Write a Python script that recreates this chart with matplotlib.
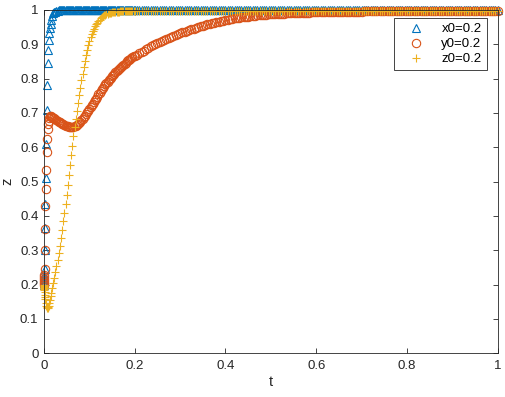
import matplotlib
matplotlib.use("Agg")
import matplotlib.pyplot as plt

# time points (the solver steps are very dense near t = 0)
t = [0, 0.0002, 0.0004, 0.0006, 0.0008, 0.001, 0.0015, 0.002, 0.0025, 0.003,
     0.004, 0.005, 0.006, 0.0075, 0.0085, 0.0095, 0.0105, 0.012, 0.0135, 0.015,
     0.0165, 0.018,
     0.02, 0.0225, 0.025, 0.0275, 0.03, 0.0325, 0.035, 0.0375, 0.04, 0.0425,
     0.045, 0.0475, 0.05, 0.0525, 0.055, 0.0575, 0.06, 0.0625, 0.065, 0.0675,
     0.07, 0.0725, 0.075, 0.0775, 0.08, 0.0825, 0.085, 0.0875, 0.09, 0.0925,
     0.095, 0.0975, 0.1, 0.1025, 0.105, 0.1075, 0.11, 0.1125, 0.115, 0.1175,
     0.12, 0.1225, 0.125, 0.1275, 0.13, 0.1325, 0.135, 0.1375, 0.14, 0.1425,
     0.145, 0.1475, 0.15, 0.1525, 0.155, 0.1575, 0.16, 0.1625, 0.165, 0.1675,
     0.17, 0.1725, 0.175, 0.1775, 0.18, 0.1825, 0.185, 0.1875, 0.19, 0.1925,
     0.195, 0.1975, 0.2,
     0.205, 0.21, 0.215, 0.22, 0.225, 0.23, 0.235, 0.24, 0.245, 0.25,
     0.255, 0.26, 0.265, 0.27, 0.275, 0.28, 0.285, 0.29, 0.295, 0.30,
     0.305, 0.31, 0.315, 0.32, 0.325, 0.33, 0.335, 0.34, 0.345, 0.35,
     0.355, 0.36, 0.365, 0.37, 0.375, 0.38, 0.385, 0.39, 0.395, 0.40,
     0.405, 0.41, 0.415, 0.42, 0.425, 0.43, 0.435, 0.44, 0.445, 0.45,
     0.455, 0.46, 0.465, 0.47, 0.475, 0.48, 0.485, 0.49, 0.495, 0.50,
     0.505, 0.51, 0.515, 0.52, 0.525, 0.53, 0.535, 0.54, 0.545, 0.55,
     0.555, 0.56, 0.565, 0.57, 0.575, 0.58, 0.585, 0.59, 0.595, 0.60,
     0.605, 0.61, 0.615, 0.62, 0.625, 0.63, 0.635, 0.64, 0.645, 0.65,
     0.655, 0.66, 0.665, 0.67, 0.675, 0.68, 0.685, 0.69, 0.695, 0.70,
     0.705, 0.71, 0.715, 0.72, 0.725, 0.73, 0.735, 0.74, 0.745, 0.75,
     0.755, 0.76, 0.765, 0.77, 0.775, 0.78, 0.785, 0.79, 0.795, 0.80,
     0.805, 0.81, 0.815, 0.82, 0.825, 0.83, 0.835, 0.84, 0.845, 0.85,
     0.855, 0.86, 0.865, 0.87, 0.875, 0.88, 0.885, 0.89, 0.895, 0.90,
     0.905, 0.91, 0.915, 0.92, 0.925, 0.93, 0.935, 0.94, 0.945, 0.95,
     0.955, 0.96, 0.965, 0.97, 0.975, 0.98, 0.985, 0.99, 0.995, 1.00]

# x0 = 0.2 (triangles)
x_vals = [0.2, 0.205, 0.21, 0.216, 0.222, 0.228, 0.246, 0.30, 0.364, 0.436,
          0.511, 0.611, 0.708, 0.781, 0.846, 0.883, 0.912, 0.932, 0.947, 0.960,
          0.972, 0.982,
          0.990, 0.993, 0.995, 0.997, 0.998, 0.999, 1.0, 1.0, 1.0, 1.0,
          1.0, 1.0, 1.0, 1.0, 1.0, 1.0, 1.0, 1.0, 1.0, 1.0,
          1.0, 1.0, 1.0, 1.0, 1.0, 1.0, 1.0, 1.0, 1.0, 1.0,
          1.0, 1.0, 1.0, 1.0, 1.0, 1.0, 1.0, 1.0, 1.0, 1.0,
          1.0, 1.0, 1.0, 1.0, 1.0, 1.0, 1.0, 1.0, 1.0, 1.0,
          1.0, 1.0, 1.0, 1.0, 1.0, 1.0, 1.0, 1.0, 1.0, 1.0,
          1.0, 1.0, 1.0, 1.0, 1.0, 1.0, 1.0, 1.0, 1.0, 1.0,
          1.0, 1.0, 1.0,
          1.0, 1.0, 1.0, 1.0, 1.0, 1.0, 1.0, 1.0, 1.0, 1.0,
          1.0, 1.0, 1.0, 1.0, 1.0, 1.0, 1.0, 1.0, 1.0, 1.0,
          1.0, 1.0, 1.0, 1.0, 1.0, 1.0, 1.0, 1.0, 1.0, 1.0,
          1.0, 1.0, 1.0, 1.0, 1.0, 1.0, 1.0, 1.0, 1.0, 1.0,
          1.0, 1.0, 1.0, 1.0, 1.0, 1.0, 1.0, 1.0, 1.0, 1.0,
          1.0, 1.0, 1.0, 1.0, 1.0, 1.0, 1.0, 1.0, 1.0, 1.0,
          1.0, 1.0, 1.0, 1.0, 1.0, 1.0, 1.0, 1.0, 1.0, 1.0,
          1.0, 1.0, 1.0, 1.0, 1.0, 1.0, 1.0, 1.0, 1.0, 1.0,
          1.0, 1.0, 1.0, 1.0, 1.0, 1.0, 1.0, 1.0, 1.0, 1.0,
          1.0, 1.0, 1.0, 1.0, 1.0, 1.0, 1.0, 1.0, 1.0, 1.0,
          1.0, 1.0, 1.0, 1.0, 1.0, 1.0, 1.0, 1.0, 1.0, 1.0,
          1.0, 1.0, 1.0, 1.0, 1.0, 1.0, 1.0, 1.0, 1.0, 1.0,
          1.0, 1.0, 1.0, 1.0, 1.0, 1.0, 1.0, 1.0, 1.0, 1.0,
          1.0, 1.0, 1.0, 1.0, 1.0, 1.0, 1.0, 1.0, 1.0, 1.0,
          1.0, 1.0, 1.0, 1.0, 1.0, 1.0, 1.0, 1.0, 1.0, 1.0,
          1.0, 1.0, 1.0, 1.0, 1.0, 1.0, 1.0, 1.0, 1.0, 1.0]

# y0 = 0.2 (circles)
y_vals = [0.2, 0.205, 0.21, 0.216, 0.222, 0.228, 0.245, 0.30, 0.362, 0.43,
          0.48, 0.535, 0.585, 0.625, 0.652, 0.668, 0.678, 0.686, 0.69, 0.69,
          0.689, 0.688,
          0.686, 0.684, 0.682, 0.680, 0.678, 0.675, 0.673, 0.671, 0.669, 0.667,
          0.665, 0.663, 0.662, 0.661, 0.660, 0.659, 0.659, 0.659, 0.660, 0.661,
          0.663, 0.665, 0.668, 0.671, 0.675, 0.679, 0.683, 0.687, 0.692, 0.697,
          0.702, 0.707, 0.712, 0.717, 0.722, 0.727, 0.732, 0.737, 0.742, 0.748,
          0.754, 0.759, 0.764, 0.769, 0.774, 0.778, 0.783, 0.787, 0.791, 0.795,
          0.799, 0.803, 0.807, 0.811, 0.815, 0.818, 0.822, 0.825, 0.829, 0.832,
          0.835, 0.838, 0.841, 0.844, 0.847, 0.850, 0.853, 0.855, 0.858, 0.860,
          0.863, 0.865, 0.867,
          0.870, 0.874, 0.878, 0.882, 0.886, 0.890, 0.894, 0.897, 0.901, 0.904,
          0.907, 0.910, 0.913, 0.916, 0.919, 0.922, 0.925, 0.927, 0.930, 0.932,
          0.935, 0.937, 0.940, 0.942, 0.944, 0.946, 0.948, 0.950, 0.952, 0.954,
          0.956, 0.958, 0.960, 0.961, 0.963, 0.965, 0.966, 0.968, 0.969, 0.971,
          0.972, 0.973, 0.974, 0.976, 0.977, 0.978, 0.979, 0.980, 0.980, 0.981,
          0.982, 0.983, 0.983, 0.984, 0.985, 0.985, 0.986, 0.986, 0.987, 0.987,
          0.988, 0.988, 0.988, 0.989, 0.989, 0.989, 0.990, 0.990, 0.990, 0.991,
          0.991, 0.991, 0.991, 0.992, 0.992, 0.992, 0.992, 0.993, 0.993, 0.993,
          0.993, 0.993, 0.994, 0.994, 0.994, 0.994, 0.994, 0.994, 0.995, 0.995,
          0.995, 0.995, 0.995, 0.995, 0.995, 0.995, 0.995, 0.995, 0.995, 0.995,
          0.996, 0.996, 0.996, 0.996, 0.996, 0.996, 0.996, 0.996, 0.996, 0.996,
          0.996, 0.996, 0.996, 0.996, 0.996, 0.996, 0.996, 0.996, 0.996, 0.996,
          0.997, 0.997, 0.997, 0.997, 0.997, 0.997, 0.997, 0.997, 0.997, 0.997,
          0.997, 0.997, 0.997, 0.997, 0.997, 0.997, 0.997, 0.997, 0.997, 0.997,
          0.997, 0.997, 0.997, 0.997, 0.997, 0.998, 0.998, 0.998, 0.998, 0.998,
          0.998, 0.998, 0.998, 0.998, 0.998, 0.998, 0.998, 0.998, 0.998, 0.998]

# z0 = 0.2 (plus signs)
z_vals = [0.2, 0.197, 0.194, 0.191, 0.188, 0.185, 0.178, 0.170, 0.163, 0.157,
          0.147, 0.139, 0.134, 0.131, 0.132, 0.135, 0.139, 0.147, 0.156, 0.166,
          0.176, 0.189,
          0.204, 0.220, 0.237, 0.254, 0.272, 0.292, 0.312, 0.335, 0.358, 0.384,
          0.410, 0.436, 0.462, 0.491, 0.520, 0.549, 0.578, 0.605, 0.632, 0.658,
          0.683, 0.707, 0.730, 0.752, 0.774, 0.795, 0.815, 0.834, 0.852, 0.869,
          0.884, 0.898, 0.910, 0.921, 0.930, 0.938, 0.945, 0.952, 0.958, 0.963,
          0.968, 0.972, 0.976, 0.979, 0.982, 0.984, 0.986, 0.988, 0.989, 0.990,
          0.991, 0.992, 0.993, 0.993, 0.994, 0.994, 0.995, 0.995, 0.995, 0.996,
          0.996, 0.996, 0.996, 0.996, 0.997, 0.997, 0.997, 0.997, 0.997, 0.997,
          0.997, 0.997, 0.997,
          0.997, 0.997, 0.997, 0.997, 0.997, 0.997, 0.997, 0.997, 0.997, 0.997,
          0.997, 0.997, 0.997, 0.997, 0.997, 0.997, 0.997, 0.997, 0.997, 0.997,
          0.998, 0.998, 0.998, 0.998, 0.998, 0.998, 0.998, 0.998, 0.998, 0.998,
          0.998, 0.998, 0.998, 0.998, 0.998, 0.998, 0.998, 0.998, 0.998, 0.998,
          0.998, 0.998, 0.998, 0.998, 0.998, 0.998, 0.998, 0.998, 0.998, 0.998,
          0.998, 0.998, 0.998, 0.998, 0.998, 0.998, 0.998, 0.998, 0.998, 0.998,
          0.998, 0.998, 0.998, 0.998, 0.998, 0.998, 0.998, 0.998, 0.998, 0.998,
          0.998, 0.998, 0.998, 0.998, 0.998, 0.998, 0.998, 0.998, 0.998, 0.998,
          0.998, 0.998, 0.998, 0.998, 0.998, 0.998, 0.998, 0.998, 0.998, 0.998,
          0.998, 0.998, 0.998, 0.998, 0.998, 0.998, 0.998, 0.998, 0.998, 0.998,
          0.998, 0.998, 0.998, 0.998, 0.998, 0.998, 0.998, 0.998, 0.998, 0.998,
          0.998, 0.998, 0.998, 0.998, 0.998, 0.998, 0.998, 0.998, 0.998, 0.998,
          0.998, 0.998, 0.998, 0.998, 0.998, 0.998, 0.998, 0.998, 0.998, 0.998,
          0.998, 0.998, 0.998, 0.998, 0.998, 0.998, 0.998, 0.998, 0.998, 0.998,
          0.998, 0.998, 0.998, 0.998, 0.998, 0.998, 0.998, 0.998, 0.998, 0.998,
          0.998, 0.998, 0.998, 0.998, 0.998, 0.998, 0.998, 0.998, 0.998, 0.998]

labels = ["x0=0.2", "y0=0.2", "z0=0.2"]
x_ticks = [0, 0.2, 0.4, 0.6, 0.8, 1]
y_ticks = [0, 0.1, 0.2, 0.3, 0.4, 0.5, 0.6, 0.7, 0.8, 0.9, 1]

plt.rcParams['font.family'] = ['Liberation Sans', 'DejaVu Sans']
axis_col = '#262626'

fig = plt.figure(figsize=(5.05, 3.97), dpi=100)
ax = fig.add_axes([44 / 505, 43.7 / 397, 453.7 / 505, 343.3 / 397])

# MATLAB default colour order, markers only
ax.plot(t, x_vals, linestyle='none', marker='^', markersize=6, markerfacecolor='none',
        markeredgecolor='#0072BD', markeredgewidth=0.8, clip_on=False, label=labels[0])
ax.plot(t, y_vals, linestyle='none', marker='o', markersize=6, markerfacecolor='none',
        markeredgecolor='#D95319', markeredgewidth=0.8, clip_on=False, label=labels[1])
ax.plot(t, z_vals, linestyle='none', marker='+', markersize=6,
        markeredgecolor='#EDB120', markeredgewidth=0.8, clip_on=False, label=labels[2])

ax.set_xlim(0, 1)
ax.set_ylim(0, 1)
ax.set_xticks(x_ticks)
ax.set_xticklabels(['0', '0.2', '0.4', '0.6', '0.8', '1'])
ax.set_yticks(y_ticks)
ax.set_yticklabels(['0', '0.1', '0.2', '0.3', '0.4', '0.5', '0.6', '0.7', '0.8', '0.9', '1'])
ax.tick_params(direction='in', length=3.5, width=0.6, color=axis_col, labelcolor=axis_col,
               labelsize=9.5, top=True, right=True)
ax.tick_params(axis='x', pad=5)
ax.tick_params(axis='y', pad=4)
for s in ax.spines.values():
    s.set_color(axis_col)
    s.set_linewidth(0.6)

ax.set_xlabel('t', fontsize=10.5, color=axis_col, labelpad=2)
ax.set_ylabel('z', fontsize=10.5, color=axis_col, labelpad=4)

leg = ax.legend(loc='upper right', bbox_to_anchor=(0.976, 0.977), borderaxespad=0,
                fontsize=9.5, fancybox=False, framealpha=1, edgecolor=axis_col,
                handlelength=2.6, handletextpad=0.6, labelspacing=0.2, borderpad=0.4)
leg.get_frame().set_linewidth(0.6)

fig.savefig('out.png', dpi=100)
